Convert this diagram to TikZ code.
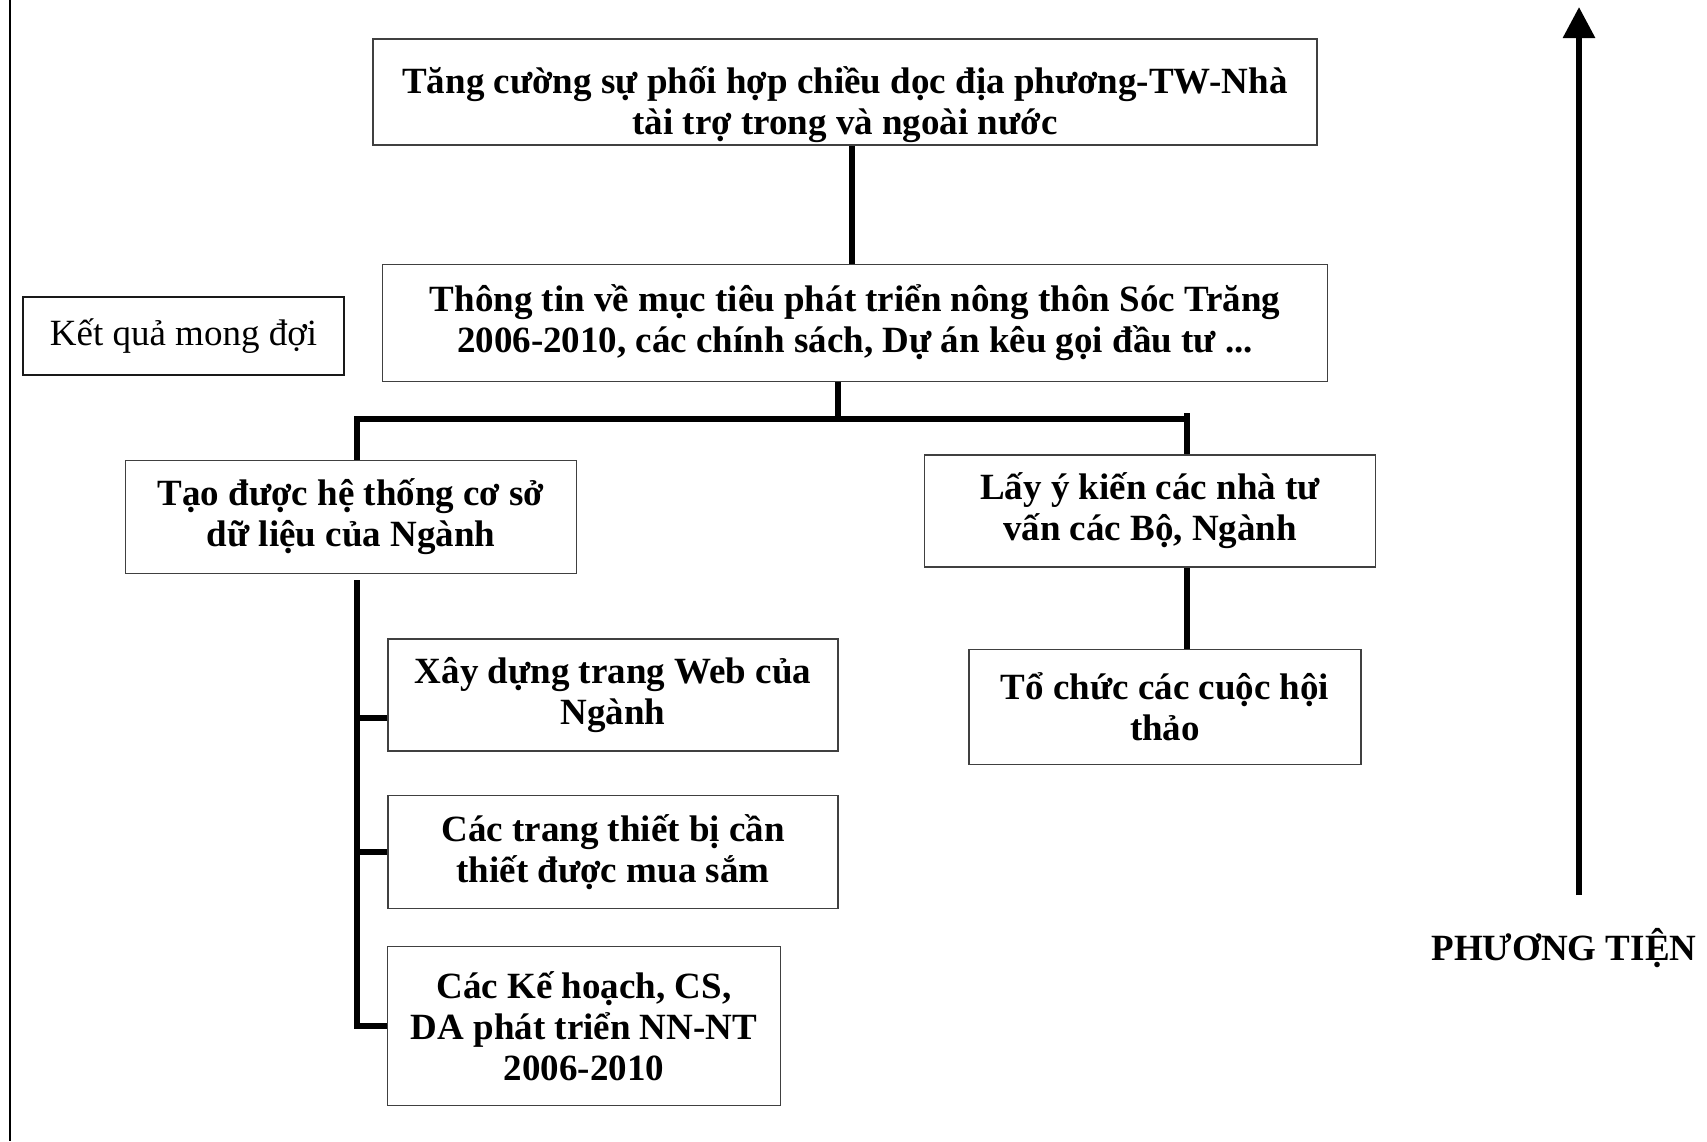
\documentclass[tikz,border=0pt]{standalone}
\usepackage{fontspec}
\setmainfont{Liberation Serif}
\usepackage{tikz}
\usetikzlibrary{shapes, arrows.meta, positioning}

\begin{document}
\begin{tikzpicture}
  [
    x=1pt, y=-1pt,
    Box/.style={rectangle, draw=black!75, line width=1.6pt, inner sep=0pt, align=center, font=\fontsize{37}{41}\selectfont\bfseries},
    Plain/.style={rectangle, draw=black!90, line width=1.6pt, inner sep=0pt, align=center, font=\fontsize{37}{41}\selectfont},
    Link/.style={draw, line width=5.5pt}
  ]
  \useasboundingbox (0,0) rectangle (1707,1141);

  % Nodes
  \node[Box, minimum width=944, minimum height=106] (v0) at (845, 92) {\rule{0pt}{53pt}Tăng cường sự phối hợp chiều dọc địa phương-TW-Nhà\\tài trợ trong và ngoài nước};

  \node[Box, minimum width=945, minimum height=117] (v1) at (855, 323) {Thông tin về mục tiêu phát triển nông thôn Sóc Trăng\\2006-2010, các chính sách, Dự án kêu gọi đầu tư ...};

  \node[Plain, minimum width=321, minimum height=78] (v2) at (183.5, 336) {Kết quả mong đợi};

  \node[Box, minimum width=451, minimum height=113] (v3) at (351, 517) {Tạo được hệ thống cơ sở\\dữ liệu của Ngành};

  \node[Box, minimum width=451, minimum height=112] (v4) at (1150, 511) {Lấy ý kiến các nhà tư\\vấn các Bộ, Ngành};

  \node[Box, minimum width=392, minimum height=115] (v5) at (1165, 707) {Tổ chức các cuộc hội\\thảo};

  \node[Box, minimum width=450, minimum height=112] (v6) at (613, 695) {Xây dựng trang Web của\\Ngành};

  \node[Box, minimum width=450, minimum height=113] (v7) at (613, 852) {Các trang thiết bị cần\\thiết được mua sắm};

  \node[Box, minimum width=393, minimum height=159] (v8) at (584, 1026) {Các Kế hoạch, CS,\\DA phát triển NN-NT\\2006-2010};

  \node[font=\fontsize{37}{41}\selectfont\bfseries, inner sep=0pt, anchor=base] (v9) at (1564, 960) {PHƯƠNG TIỆN};

  % Joints
  \coordinate (j1) at (852, 0);
  \coordinate (j0) at (838, 419);
  \coordinate (jl) at (357, 419);
  \coordinate (jr) at (1187, 419);
  \coordinate (jt) at (1187, 413);
  \coordinate (s0) at (357, 580);
  \coordinate (k6) at (0, 718);
  \coordinate (a0) at (1579, 895);
  \coordinate (a1) at (1579, 7);
  \coordinate (f0) at (10, 0);
  \coordinate (f1) at (10, 1141);

  % Lines
  \path [draw, line width=2pt] (f0) -- (f1);
  \path [Link] (j1 |- v0.south) -- (j1 |- v1.north);
  \path [Link] (j0 |- v1.south) -- (j0);
  \path [Link] (jl |- v3.north) -- (jl) -- (jr);
  \path [Link] (jt) -- (jt |- v4.north);
  \path [Link] (jr |- v4.south) -- (jr |- v5.north);
  \path [Link] (s0) -- (s0 |- v8.west) -- (v8.west);
  \path [Link] (s0 |- k6) -- (v6.west |- k6);
  \path [Link] (s0 |- v7.west) -- (v7.west);
  \path [->, >={Triangle[width=31pt, length=31pt]}, draw, line width=6pt] (a0) -- (a1);

\end{tikzpicture}
\end{document}
